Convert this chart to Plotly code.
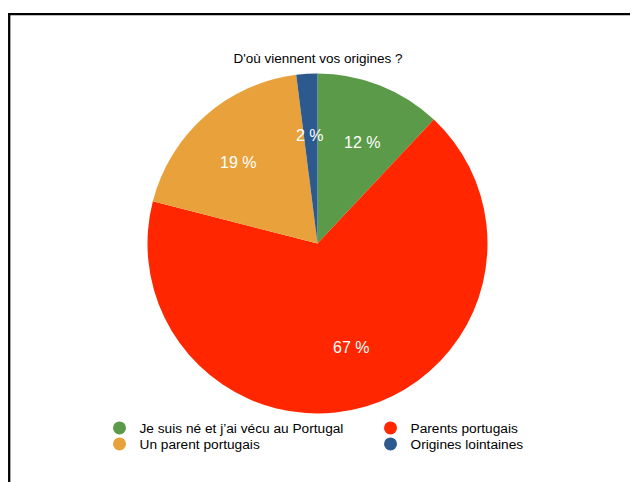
import math
import plotly.graph_objects as go

# ---- data ----
categories = ["Je suis né et j’ai vécu au Portugal", "Parents portugais",
              "Un parent portugais", "Origines lointaines"]
values = [12, 67, 19, 2]
slice_labels = ["12 %", "67 %", "19 %", "2 %"]
colors = ["#5B9A48", "#FF2600", "#E9A23B", "#2D5A8E"]
title_text = "D'où viennent vos origines ?"

# page has an 8px body margin, so the figure is sized to fill the rest of the window
W, H = 630, 474
FONT = "Liberation Sans, Arial, Helvetica, sans-serif"

cx, cy, R = 309.5, 235.5, 170   # pie centre / radius in figure pixels
label_rx, label_ry = 0.67 * 179.5, 0.67 * 161.5   # label placement radii along each mid-angle

# legend layout: one legend box per entry, 2 columns x 2 rows
legend_ids = ["legend", "legend2", "legend3", "legend4"]
legend_x = [91.5, 362.5, 91.5, 362.5]
legend_y = [420, 420, 436, 436]

fig = go.Figure()
fig.add_trace(go.Pie(
    labels=categories, values=values, sort=False, direction="clockwise", rotation=0,
    marker=dict(colors=colors, line=dict(width=0)),
    textinfo="none", hoverinfo="label+percent", showlegend=False,
    domain=dict(x=[(cx - R) / W, (cx + R) / W], y=[(H - cy - R) / H, (H - cy + R) / H]),
))

# slice labels, positioned from the data (mid-angle of each slice)
total = sum(values)
annotations = []
cum = 0
for v, lab in zip(values, slice_labels):
    mid = math.radians((cum + v / 2) / total * 360)
    cum += v
    annotations.append(dict(
        x=(cx + label_rx * math.sin(mid)) / W, y=1 - (cy - label_ry * math.cos(mid)) / H,
        xref="paper", yref="paper", text=lab, showarrow=False, xanchor="center", yanchor="middle",
        font=dict(family=FONT, size=16, color="white"),
    ))

# legend entries with round markers
for cat, c, lg in zip(categories, colors, legend_ids):
    fig.add_trace(go.Scatter(
        x=[None], y=[None], mode="markers", name=cat,
        marker=dict(color=c, size=13, symbol="circle"),
        legend=lg, showlegend=True, hoverinfo="skip",
    ))

legends = {}
for lg, lx, ly in zip(legend_ids, legend_x, legend_y):
    legends[lg] = dict(orientation="h", xref="container", yref="container",
                       x=lx / W, y=1 - ly / H, xanchor="left", yanchor="middle",
                       font=dict(family=FONT, size=13.7, color="black"),
                       bgcolor="rgba(0,0,0,0)", itemclick=False, itemdoubleclick=False)

fig.update_layout(
    width=W, height=H,
    margin=dict(l=0, r=0, t=0, b=0, autoexpand=False),
    paper_bgcolor="white", plot_bgcolor="white",
    font=dict(family=FONT, color="black"),
    xaxis=dict(visible=False), yaxis=dict(visible=False),
    title=dict(text=title_text, x=310 / W, xanchor="center", y=1 - 50 / H, yanchor="middle",
               font=dict(family=FONT, size=13.5, color="black")),
    annotations=annotations,
    shapes=[
        dict(type="line", xref="paper", yref="paper", x0=0, x1=1, y0=1 - 6.2 / H, y1=1 - 6.2 / H,
             line=dict(color="black", width=2.3)),
        dict(type="line", xref="paper", yref="paper", x0=1.2 / W, x1=1.2 / W, y0=1 - 6.2 / H, y1=0,
             line=dict(color="black", width=2.3)),
    ],
    **legends,
)

fig.write_html("out.html")
